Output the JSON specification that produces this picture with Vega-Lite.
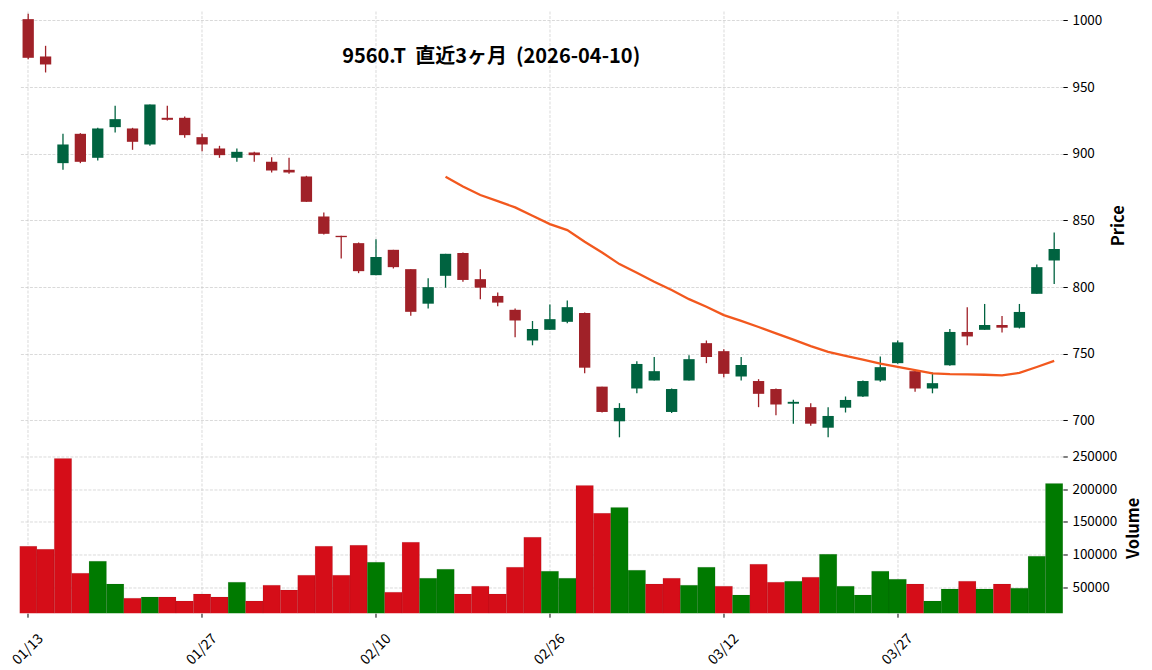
{
  "$schema": "https://vega.github.io/schema/vega-lite/v6.json",
  "background": "white",
  "padding": {"left": 9.5, "top": 11, "right": 0, "bottom": 0},
  "autosize": {"type": "pad"},
  "config": {
    "view": {"stroke": null},
    "font": "Noto Sans CJK JP",
    "axis": {
      "labelFont": "Noto Sans CJK JP",
      "titleFont": "Noto Sans CJK JP",
      "labelColor": "#000000",
      "titleColor": "#000000",
      "tickColor": "#000000",
      "gridColor": "#c8c8c8",
      "gridDash": [3, 1.5],
      "gridWidth": 0.7,
      "domain": false,
      "labelOverlap": false
    }
  },
  "data": {"values": [
    {"d":"01/13","o":1001,"h":1005,"l":971,"c":972,"v":113000,"vd":"down","ma":null},
    {"d":"01/14","o":973,"h":981,"l":961,"c":967,"v":108500,"vd":"down","ma":null},
    {"d":"01/15","o":893,"h":915,"l":888,"c":907,"v":246500,"vd":"down","ma":null},
    {"d":"01/16","o":915,"h":915.5,"l":893,"c":894,"v":72200,"vd":"down","ma":null},
    {"d":"01/19","o":897,"h":919.5,"l":895,"c":919,"v":90400,"vd":"up","ma":null},
    {"d":"01/20","o":920,"h":936,"l":916,"c":926,"v":55600,"vd":"up","ma":null},
    {"d":"01/21","o":919,"h":919.5,"l":903,"c":909,"v":34300,"vd":"down","ma":null},
    {"d":"01/22","o":907,"h":937,"l":906,"c":937,"v":35900,"vd":"up","ma":null},
    {"d":"01/23","o":927,"h":936,"l":925,"c":925.5,"v":35900,"vd":"down","ma":null},
    {"d":"01/26","o":927,"h":928,"l":912,"c":914,"v":29800,"vd":"down","ma":null},
    {"d":"01/27","o":912.5,"h":915,"l":902,"c":907,"v":40400,"vd":"down","ma":null},
    {"d":"01/28","o":904,"h":906,"l":897,"c":899,"v":35900,"vd":"down","ma":null},
    {"d":"01/29","o":897,"h":904,"l":894,"c":901.5,"v":58600,"vd":"up","ma":null},
    {"d":"01/30","o":901,"h":901.5,"l":894,"c":899,"v":29800,"vd":"down","ma":null},
    {"d":"02/02","o":894,"h":897.5,"l":886,"c":887.5,"v":54000,"vd":"down","ma":null},
    {"d":"02/03","o":888,"h":897,"l":885,"c":886,"v":46500,"vd":"down","ma":null},
    {"d":"02/04","o":883,"h":883.5,"l":864,"c":864,"v":69200,"vd":"down","ma":null},
    {"d":"02/05","o":853,"h":856,"l":839.5,"c":840,"v":113100,"vd":"down","ma":null},
    {"d":"02/06","o":838.5,"h":838.5,"l":821.5,"c":837.5,"v":69200,"vd":"down","ma":null},
    {"d":"02/09","o":833,"h":833.5,"l":810.5,"c":812,"v":114600,"vd":"down","ma":null},
    {"d":"02/10","o":809,"h":836,"l":809,"c":822.6,"v":88900,"vd":"up","ma":null},
    {"d":"02/12","o":828,"h":828,"l":814,"c":815,"v":43400,"vd":"down","ma":null},
    {"d":"02/13","o":813.5,"h":813.5,"l":778.5,"c":781.5,"v":119200,"vd":"down","ma":null},
    {"d":"02/16","o":787.6,"h":806.6,"l":784,"c":800,"v":64600,"vd":"up","ma":null},
    {"d":"02/17","o":808.5,"h":825,"l":799.6,"c":825,"v":78300,"vd":"up","ma":882.8},
    {"d":"02/18","o":825.6,"h":826,"l":804,"c":805.4,"v":40400,"vd":"down","ma":875.5},
    {"d":"02/19","o":806,"h":813.4,"l":791,"c":799.6,"v":52500,"vd":"down","ma":869.1},
    {"d":"02/20","o":793.4,"h":796,"l":785.6,"c":788.4,"v":40400,"vd":"down","ma":864.5},
    {"d":"02/24","o":783,"h":784,"l":762.5,"c":775,"v":81300,"vd":"down","ma":859.8},
    {"d":"02/25","o":760,"h":774.6,"l":756.4,"c":768.6,"v":126800,"vd":"down","ma":853.5},
    {"d":"02/26","o":768,"h":787,"l":768,"c":776,"v":75300,"vd":"up","ma":847.3},
    {"d":"02/27","o":774,"h":790,"l":773,"c":785,"v":64600,"vd":"up","ma":842.8},
    {"d":"03/02","o":780.6,"h":781,"l":735.4,"c":739.6,"v":205600,"vd":"down","ma":834},
    {"d":"03/03","o":725.4,"h":725.4,"l":706,"c":706.4,"v":163100,"vd":"down","ma":826},
    {"d":"03/04","o":699.4,"h":713,"l":687.4,"c":709.4,"v":172200,"vd":"up","ma":817.3},
    {"d":"03/05","o":724,"h":744.4,"l":720.4,"c":742.4,"v":76800,"vd":"up","ma":810.8},
    {"d":"03/06","o":730,"h":747.6,"l":730,"c":737,"v":55600,"vd":"down","ma":804.1},
    {"d":"03/09","o":706.4,"h":724,"l":705.6,"c":723.6,"v":64600,"vd":"down","ma":797.8},
    {"d":"03/10","o":730,"h":749,"l":730,"c":746,"v":54000,"vd":"up","ma":791},
    {"d":"03/11","o":758,"h":760,"l":743,"c":747.6,"v":81300,"vd":"up","ma":785.3},
    {"d":"03/12","o":752,"h":753.4,"l":732.4,"c":735,"v":52500,"vd":"down","ma":779},
    {"d":"03/13","o":733,"h":747.6,"l":730,"c":741.6,"v":38900,"vd":"up","ma":774.7},
    {"d":"03/16","o":729.6,"h":731,"l":710,"c":720,"v":85900,"vd":"down","ma":770.1},
    {"d":"03/17","o":723.6,"h":724,"l":704,"c":712,"v":58600,"vd":"down","ma":765.3},
    {"d":"03/18","o":712.6,"h":715.6,"l":697.6,"c":714,"v":60100,"vd":"up","ma":760.6},
    {"d":"03/19","o":710,"h":713,"l":696,"c":697.6,"v":66200,"vd":"down","ma":755.8},
    {"d":"03/23","o":694.6,"h":710,"l":687.4,"c":703.4,"v":101000,"vd":"up","ma":751.5},
    {"d":"03/24","o":709.6,"h":718,"l":706,"c":715.4,"v":52500,"vd":"up","ma":748.4},
    {"d":"03/25","o":718,"h":730,"l":717.6,"c":729.6,"v":38900,"vd":"up","ma":745.6},
    {"d":"03/26","o":730,"h":748,"l":729,"c":740,"v":75300,"vd":"up","ma":742.7},
    {"d":"03/27","o":743,"h":760,"l":742.6,"c":758.6,"v":63100,"vd":"up","ma":740.2},
    {"d":"03/30","o":737,"h":737.5,"l":721.6,"c":724,"v":55600,"vd":"down","ma":737.7},
    {"d":"03/31","o":724,"h":736,"l":720.4,"c":728,"v":29800,"vd":"up","ma":735.3},
    {"d":"04/01","o":741.4,"h":768.6,"l":741,"c":766.4,"v":48000,"vd":"up","ma":734.8},
    {"d":"04/02","o":766.4,"h":785,"l":756.4,"c":763,"v":60100,"vd":"down","ma":734.6},
    {"d":"04/03","o":768,"h":787.4,"l":768,"c":771.6,"v":48000,"vd":"up","ma":734.3},
    {"d":"04/06","o":771.6,"h":778.4,"l":766,"c":769.6,"v":55600,"vd":"down","ma":733.8},
    {"d":"04/07","o":769.6,"h":787.4,"l":769,"c":781.4,"v":49500,"vd":"up","ma":735.7},
    {"d":"04/08","o":795,"h":817,"l":795,"c":815,"v":98000,"vd":"up","ma":740.1},
    {"d":"04/09","o":820,"h":841,"l":802.4,"c":828.6,"v":208600,"vd":"up","ma":744.7}
  ]},
  "spacing": 2.5,
  "vconcat": [
    {
      "width": 1043.4,
      "height": 428.5,
      "title": {
        "text": "9560.T\u00a0\u00a0直近3ヶ月\u00a0\u00a0(2026-04-10)",
        "font": "Noto Sans CJK JP",
        "fontSize": 20,
        "fontWeight": "bold",
        "color": "#000000",
        "anchor": "middle",
        "baseline": "middle",
        "offset": -66,
        "dx": -50
      },
      "encoding": {
        "x": {
          "field": "d", "type": "ordinal", "sort": null,
          "scale": {"type": "band", "paddingInner": 0, "paddingOuter": 0},
          "axis": {"orient": "bottom", "labels": false, "ticks": false, "domain": false, "title": null, "grid": true, "bandPosition": 0.5,
                   "values": ["01/13","01/27","02/10","02/26","03/12","03/27"]}
        }
      },
      "layer": [
        {
          "mark": {"type": "rule", "strokeWidth": 1.3},
          "encoding": {
            "y": {"field": "l", "type": "quantitative",
                  "scale": {"domain": [685.75, 1007.1], "nice": false, "zero": false},
                  "axis": {"orient": "right", "values": [700, 750, 800, 850, 900, 950, 1000], "format": "d", "grid": true,
                           "tickSize": 4.4, "tickWidth": 1, "labelPadding": 4.6, "labelFontSize": 13.5,
                           "title": "Price", "titleFontSize": 16.5, "titleFontWeight": "bold", "titleAngle": 270, "titlePadding": 25}},
            "y2": {"field": "h"},
            "color": {"condition": {"test": "datum.c >= datum.o", "value": "#006340"}, "value": "#a02128"}
          }
        },
        {
          "mark": {"type": "bar", "width": {"band": 0.65}},
          "encoding": {
            "y": {"field": "o", "type": "quantitative"},
            "y2": {"field": "c"},
            "color": {"condition": {"test": "datum.c >= datum.o", "value": "#006340"}, "value": "#a02128"}
          }
        },
        {
          "mark": {"type": "line", "color": "#f2581e", "strokeWidth": 2.3},
          "encoding": {
            "y": {"field": "ma", "type": "quantitative"}
          }
        }
      ]
    },
    {
      "width": 1043.4,
      "height": 170.7,
      "mark": {"type": "bar", "clip": true, "stroke": "#000000", "strokeOpacity": 0.12, "strokeWidth": 0.6},
      "encoding": {
        "x": {
          "field": "d", "type": "ordinal", "sort": null,
          "scale": {"type": "band", "paddingInner": 0, "paddingOuter": 0},
          "axis": {"orient": "bottom", "title": null, "grid": true, "bandPosition": 0.5,
                   "values": ["01/13","01/27","02/10","02/26","03/12","03/27"],
                   "labelAngle": -45, "labelAlign": "center", "labelBaseline": "middle",
                   "labelPadding": 32, "labelFontSize": 14, "tickSize": 4, "tickWidth": 1}
        },
        "y": {"field": "v", "type": "quantitative",
              "scale": {"domain": [11400, 270800], "nice": false, "zero": false},
              "axis": {"orient": "right", "values": [50000, 100000, 150000, 200000, 250000], "format": "d", "grid": true,
                       "tickSize": 4.4, "tickWidth": 1, "labelPadding": 4.6, "labelFontSize": 13.5,
                       "title": "Volume", "titleFontSize": 16.5, "titleFontWeight": "bold", "titleAngle": 270, "titlePadding": 25}},
        "color": {"field": "vd", "type": "nominal", "scale": {"domain": ["up", "down"], "range": ["#007a00", "#d50d18"]}, "legend": null}
      }
    }
  ]
}
